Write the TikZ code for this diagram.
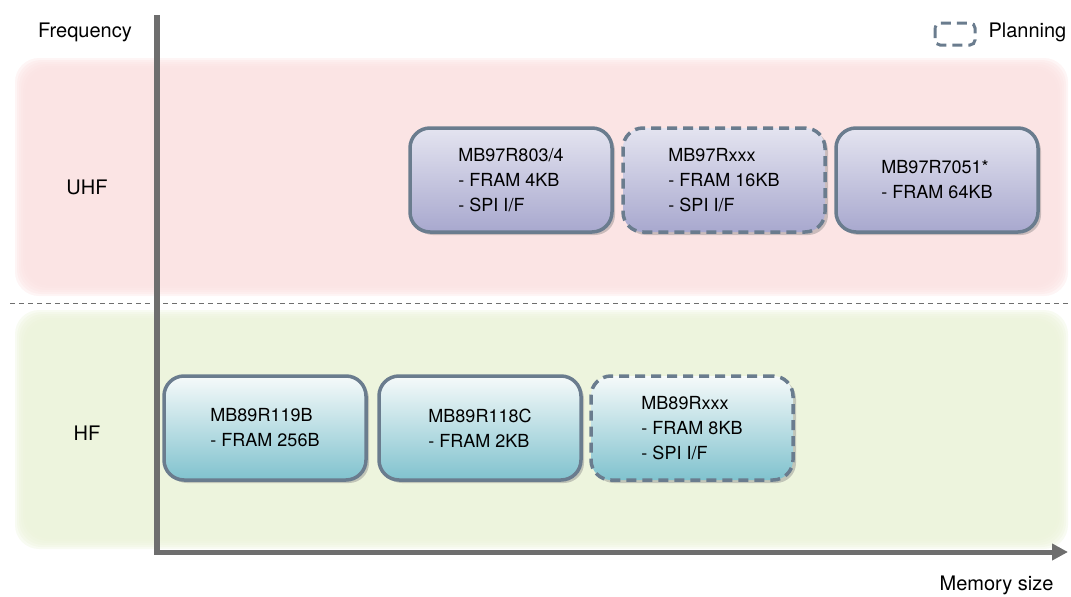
\documentclass[tikz,border=0pt]{standalone}
\usepackage{fontspec}
\setmainfont{TeX Gyre Heros}
\usepackage{xcolor}
\usepackage{tikz}
\usetikzlibrary{arrows.meta,shadows}
\definecolor{axis}{HTML}{6E6E6E}
\definecolor{edge}{HTML}{6A7C8E}
\definecolor{uhfband}{HTML}{FBE2E2}
\definecolor{hfband}{HTML}{ECF3DA}
\definecolor{uhftop}{HTML}{E4E4F0}
\definecolor{uhfbot}{HTML}{A8A8CE}
\definecolor{hftop}{HTML}{F6FAFA}
\definecolor{hfbot}{HTML}{80C2CE}
\newcommand{\Band}[3]{%
  \foreach \i in {0,2,...,10}
    \fill[color=#1, opacity=0.35, rounded corners=24pt]
      (15+\i,#2+\i) rectangle (1068-\i,#3-\i);
}

\begin{document}
\begin{tikzpicture}[x=1pt,y=-1pt,
  chip/.style={draw=edge, line width=3.5pt, rounded corners=20pt,
    minimum width=202pt, minimum height=104pt, align=left,
    font=\fontsize{18}{25}\selectfont,
    drop shadow={shadow xshift=3pt, shadow yshift=-3pt, opacity=0.4}},
  uhfchip/.style={chip, top color=uhftop, bottom color=uhfbot},
  hfchip/.style={chip, top color=hftop, bottom color=hfbot},
  plan/.style={dash pattern=on 10pt off 6pt},
  label/.style={font=\fontsize{20}{24}\selectfont}]
  \useasboundingbox (0,0) rectangle (1071,597);

  % frequency bands
  \Band{uhfband}{58}{296}
  \Band{hfband}{310}{549}
  \draw[color=axis, line width=1pt, dash pattern=on 5pt off 4pt] (10,303) -- (1071,303);

  % axes
  \coordinate (O) at (157,552);
  \coordinate (Ytop) at (157,15);
  \coordinate (Xend) at (1068,552);
  \draw[color=axis, line width=6pt] (O) -- (Ytop);
  \draw[color=axis, line width=5pt, -{Triangle[length=16pt,width=16pt]}] (154,552) -- (Xend);

  \node[label] (freq) at (85,32) {Frequency};
  \node[label, anchor=east] (mem) at (1057,585) {Memory size};
  \node[label] (uhf) at (87,187) {UHF};
  \node[label] (hf) at (87,433) {HF};

  % legend
  \draw[draw=edge, line width=3pt, rounded corners=5pt, plan] (935,23) rectangle (975,45);
  \node[label, anchor=west] (planning) at (985,32) {Planning};

  % UHF chips
  \node[uhfchip] (r803) at (511,180) {MB97R803/4\\- FRAM 4KB\\- SPI I/F};
  \node[uhfchip, plan] (rxxx) at (724,180) {MB97Rxxx\\- FRAM 16KB\\- SPI I/F};
  \node[uhfchip] (r7051) at (937,180) {MB97R7051*\\- FRAM 64KB};

  % HF chips
  \node[hfchip] (r119) at (265,428) {MB89R119B\\- FRAM 256B};
  \node[hfchip] (r118) at (480,428) {MB89R118C\\- FRAM 2KB};
  \node[hfchip, plan] (r89x) at (692,428) {MB89Rxxx\\- FRAM 8KB\\- SPI I/F};
\end{tikzpicture}
\end{document}
